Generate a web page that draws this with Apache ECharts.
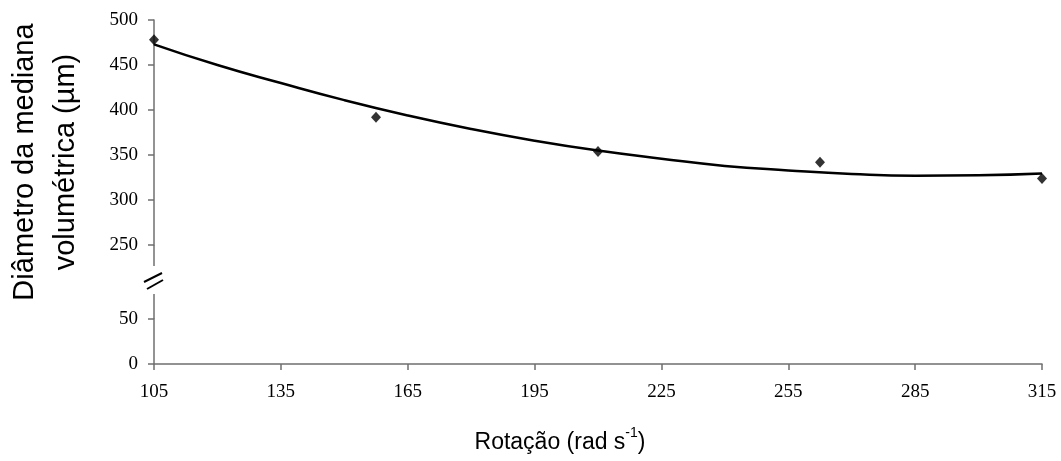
<!DOCTYPE html>
<html>
<head>
<meta charset="utf-8">
<script src="https://cdn.jsdelivr.net/npm/echarts@6/dist/echarts.min.js"></script>
<style>
html,body{margin:0;padding:0;background:#fff;}
#c{width:1061px;height:461px;}
</style>
</head>
<body>
<div id="c"></div>
<script>
// Observed data points (rotation rad/s, median volumetric diameter µm)
const rotation = [105, 157.5, 210, 262.5, 315];
const diameter = [478, 392, 354, 342, 324];
// Trend curve
const trendX = [105, 120, 135, 150, 165, 180, 195, 210, 225, 240, 255, 270, 285, 300, 315];
const trendY = [473, 450, 430, 411, 394, 379, 366, 355, 346, 338, 333, 329, 327, 327.5, 329.5];
const xTicks = [105, 135, 165, 195, 225, 255, 285, 315];
const yTicks = [0, 50, 250, 300, 350, 400, 450, 500];
const xTitle = 'Rotação (rad s';
const yTitle = ['Diâmetro da mediana', 'volumétrica (µm)'];

const chart = echarts.init(document.getElementById('c'), null, {renderer: 'canvas'});
const serif = 'Liberation Serif';
const sans = 'Liberation Sans';
const axisColor = '#6f6f6f';

chart.setOption({
  animation: false,
  backgroundColor: '#fff',
  grid: {left: 154, right: 19, top: 20, bottom: 97, containLabel: false},
  xAxis: {
    type: 'value',
    min: xTicks[0], max: xTicks[xTicks.length - 1], interval: 30,
    axisLine: {show: true, lineStyle: {color: axisColor, width: 1.5}},
    axisTick: {show: true, inside: false, length: 6, lineStyle: {color: axisColor, width: 1.5}},
    axisLabel: {color: '#000', fontFamily: serif, fontSize: 19, margin: 19},
    splitLine: {show: false}
  },
  yAxis: {
    type: 'value',
    min: yTicks[0], max: yTicks[yTicks.length - 1], interval: 50,
    breaks: [{start: 50, end: 250, gap: 82}],
    breakArea: {show: false},
    axisLine: {show: true, lineStyle: {color: axisColor, width: 1.5}},
    axisTick: {show: true, inside: false, length: 6, lineStyle: {color: axisColor, width: 1.5}},
    axisLabel: {color: '#000', fontFamily: serif, fontSize: 19, margin: 16},
    splitLine: {show: false}
  },
  series: [
    {
      type: 'line',
      data: trendX.map((x, i) => [x, trendY[i]]),
      smooth: true,
      showSymbol: false,
      symbol: 'none',
      lineStyle: {color: '#000', width: 2.5},
      z: 2
    },
    {
      type: 'scatter',
      data: rotation.map((x, i) => [x, diameter[i]]),
      symbol: 'diamond',
      symbolSize: [10, 11],
      itemStyle: {color: '#000'},
      z: 3
    }
  ],
  graphic: [
    // axis break marker
    {type: 'rect', shape: {x: 148, y: 266, width: 12, height: 28}, style: {fill: '#fff'}, z: 100},
    {type: 'line', shape: {x1: 154, y1: 245, x2: 154, y2: 266}, style: {stroke: axisColor, lineWidth: 1.5}, z: 101},
    {type: 'line', shape: {x1: 154, y1: 294, x2: 154, y2: 319}, style: {stroke: axisColor, lineWidth: 1.5}, z: 101},
    {type: 'line', shape: {x1: 144, y1: 282, x2: 162, y2: 273}, style: {stroke: '#000', lineWidth: 2}, z: 101},
    {type: 'line', shape: {x1: 147, y1: 289, x2: 163, y2: 280}, style: {stroke: '#000', lineWidth: 2}, z: 101},
    {
      type: 'text', x: 560, y: 440, z: 100,
      style: {
        text: '{a|' + xTitle + '}{s|-1}{a|)}',
        rich: {
          a: {fontFamily: sans, fontSize: 23, fill: '#000', verticalAlign: 'bottom', lineHeight: 28},
          s: {fontFamily: sans, fontSize: 14, fill: '#000', verticalAlign: 'top', lineHeight: 28, padding: [0, 0, 10, 0]}
        },
        align: 'center', verticalAlign: 'middle'
      }
    },
    {
      type: 'text', x: 45, y: 162, rotation: Math.PI / 2, z: 100,
      style: {
        text: yTitle.join('\n'),
        fontFamily: sans, fontSize: 29, lineHeight: 41, fill: '#000',
        align: 'center', verticalAlign: 'middle'
      }
    }
  ]
});
</script>
</body>
</html>
